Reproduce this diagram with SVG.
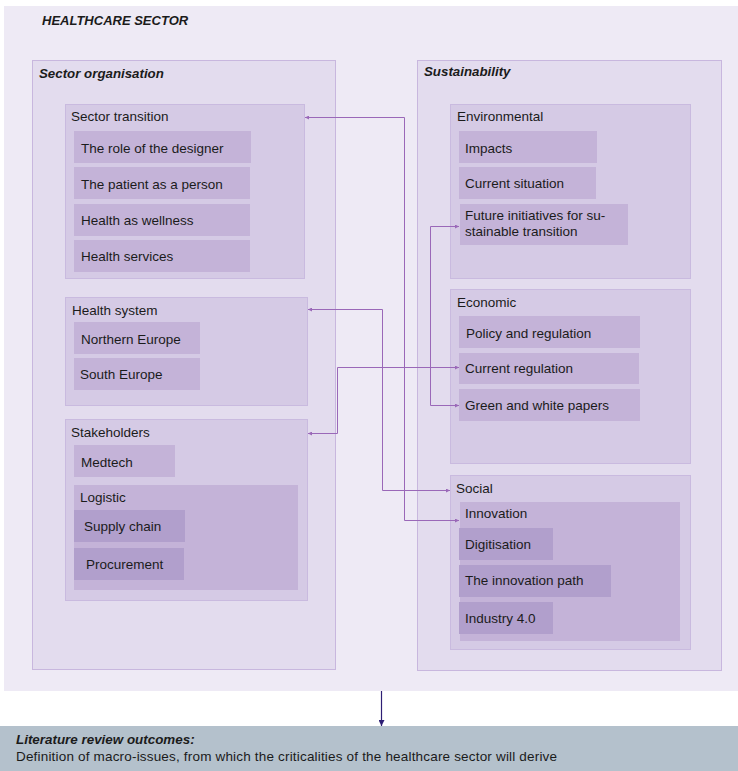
<svg xmlns="http://www.w3.org/2000/svg" width="738" height="771" viewBox="0 0 738 771">
<style>
text{font-family:"Liberation Sans",Arial,sans-serif;fill:#1b1b1b;font-size:13.5px}
.h{font-weight:bold;font-style:italic;font-size:13px}
.l1{fill:#E3DCEE;stroke:#C8B7DE;stroke-width:1}
.l2{fill:#D5CAE5;stroke:#C9BADF;stroke-width:1}
.it{fill:#C4B3D8}
.dk{fill:#B19FCC}
.c{fill:none;stroke:#9A68B8;stroke-width:1}
</style>
<defs>
<marker id="ah" viewBox="0 0 4 4" refX="4" refY="2" markerWidth="4" markerHeight="4" markerUnits="userSpaceOnUse" orient="auto-start-reverse">
<path d="M0,0 L4,2 L0,4 z" fill="#9A68B8"/>
</marker>
<marker id="ad" viewBox="0 0 6 6" refX="6" refY="3" markerWidth="6" markerHeight="6" markerUnits="userSpaceOnUse" orient="auto">
<path d="M0,0 L6,3 L0,6 z" fill="#2E1F75"/>
</marker>
</defs>
<rect x="0" y="0" width="738" height="771" fill="#FFFFFF"/>
<g id="healthcare-sector">
<rect x="4" y="6" width="734" height="685" fill="#EEEAF5"/>
<text x="42" y="25" class="h">HEALTHCARE SECTOR</text>
</g>
<g id="sector-organisation">
<rect class="l1" x="32.5" y="60.5" width="303" height="609"/>
<text x="39" y="78" class="h" style="font-size:13.3px">Sector organisation</text>
</g>
<g id="sector-transition">
<rect class="l2" x="65.5" y="104.5" width="239" height="174"/>
<text x="71" y="121">Sector transition</text>
<rect class="it" x="74" y="131" width="177" height="32"/>
<text x="81" y="153">The role of the designer</text>
<rect class="it" x="74" y="167" width="176" height="32"/>
<text x="81" y="189">The patient as a person</text>
<rect class="it" x="74" y="204" width="176" height="32"/>
<text x="81" y="225">Health as wellness</text>
<rect class="it" x="74" y="240" width="176" height="32"/>
<text x="81" y="261">Health services</text>
</g>
<g id="health-system">
<rect class="l2" x="65.5" y="297.5" width="242" height="108"/>
<text x="72" y="315">Health system</text>
<rect class="it" x="74" y="322" width="126" height="32"/>
<text x="81" y="344">Northern Europe</text>
<rect class="it" x="74" y="358" width="126" height="32"/>
<text x="80" y="379">South Europe</text>
</g>
<g id="stakeholders">
<rect class="l2" x="65.5" y="419.5" width="242" height="181"/>
<text x="71" y="437">Stakeholders</text>
<rect class="it" x="74" y="445" width="101" height="32"/>
<text x="81" y="467">Medtech</text>
<rect class="it" x="74" y="485" width="224" height="105"/>
<text x="80" y="502">Logistic</text>
<rect class="dk" x="74" y="510" width="111" height="32"/>
<text x="84" y="531">Supply chain</text>
<rect class="dk" x="74" y="548" width="110" height="32"/>
<text x="86" y="569">Procurement</text>
</g>
<g id="sustainability">
<rect class="l1" x="417.5" y="60.5" width="304" height="610"/>
<text x="424" y="76" class="h" style="font-size:13.3px">Sustainability</text>
</g>
<g id="environmental">
<rect class="l2" x="450.5" y="104.5" width="240" height="174"/>
<text x="457" y="121">Environmental</text>
<rect class="it" x="459" y="131" width="138" height="32"/>
<text x="465" y="153">Impacts</text>
<rect class="it" x="459" y="167" width="137" height="32"/>
<text x="465" y="188">Current situation</text>
<rect class="it" x="460" y="204" width="168" height="41"/>
<text x="465" y="220">Future initiatives for su-</text>
<text x="465" y="236">stainable transition</text>
</g>
<g id="economic">
<rect class="l2" x="450.5" y="289.5" width="240" height="174"/>
<text x="457" y="307">Economic</text>
<rect class="it" x="459" y="316" width="181" height="32"/>
<text x="466" y="338">Policy and regulation</text>
<rect class="it" x="459" y="353" width="180" height="31"/>
<text x="465" y="373">Current regulation</text>
<rect class="it" x="459" y="389" width="181" height="32"/>
<text x="465" y="410">Green and white papers</text>
</g>
<g id="social">
<rect class="l2" x="450.5" y="475.5" width="240" height="174"/>
<text x="456" y="493">Social</text>
<rect class="it" x="460" y="502" width="220" height="139"/>
<text x="465" y="518">Innovation</text>
<rect class="dk" x="459" y="528" width="94" height="32"/>
<text x="465" y="549">Digitisation</text>
<rect class="dk" x="459" y="565" width="152" height="32"/>
<text x="465" y="585">The innovation path</text>
<rect class="dk" x="459" y="602" width="94" height="32"/>
<text x="465" y="623">Industry 4.0</text>
</g>
<g id="connectors">
<path class="c" d="M305,117.5 H404.5 V520.5 H459" marker-start="url(#ah)" marker-end="url(#ah)"/>
<path class="c" d="M308,309.5 H382.5 V490.5 H450" marker-start="url(#ah)" marker-end="url(#ah)"/>
<path class="c" d="M308,433.5 H337.5 V367.5 H459" marker-start="url(#ah)" marker-end="url(#ah)"/>
<path class="c" d="M459,226.5 H430.5 V405.5 H459" marker-start="url(#ah)" marker-end="url(#ah)"/>
<path d="M381.5,691 V726" fill="none" stroke="#2E1F75" stroke-width="1.2" marker-end="url(#ad)"/>
</g>
<g id="literature-review-outcomes">
<rect x="0" y="726" width="738" height="45" fill="#B4C1CC"/>
<text x="16" y="744" class="h" style="font-size:13.4px">Literature review outcomes:</text>
<text x="16" y="761" style="font-size:13.5px" textLength="541" lengthAdjust="spacing">Definition of macro-issues, from which the criticalities of the healthcare sector will derive</text>
</g>
</svg>
